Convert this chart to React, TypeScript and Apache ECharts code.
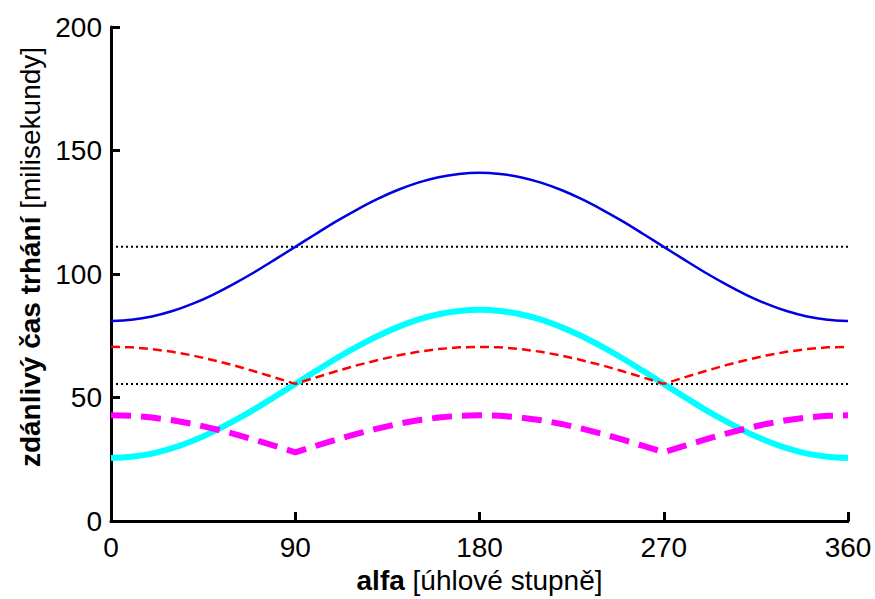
import React, { useEffect, useRef } from "react";
import * as echarts from "echarts";

const alphaDeg = [0,10,20,30,40,50,60,70,80,90,100,110,120,130,140,150,160,170,180,190,200,210,220,230,240,250,260,270,280,290,300,310,320,330,340,350,360];
const blueTime = [81.0,81.5,82.8,85.0,88.0,91.7,96.0,100.7,105.8,111.0,116.2,121.3,126.0,130.3,134.0,137.0,139.2,140.5,141.0,140.5,139.2,137.0,134.0,130.3,126.0,121.3,116.2,111.0,105.8,100.7,96.0,91.7,88.0,85.0,82.8,81.5,81.0];
const cyanTime = [25.5,26.0,27.3,29.5,32.5,36.2,40.5,45.2,50.3,55.5,60.7,65.8,70.5,74.8,78.5,81.5,83.7,85.0,85.5,85.0,83.7,81.5,78.5,74.8,70.5,65.8,60.7,55.5,50.3,45.2,40.5,36.2,32.5,29.5,27.3,26.0,25.5];
const redTime = [70.5,70.3,69.6,68.5,67.0,65.1,63.0,60.6,58.1,55.5,58.1,60.6,63.0,65.1,67.0,68.5,69.6,70.3,70.5,70.3,69.6,68.5,67.0,65.1,63.0,60.6,58.1,55.5,58.1,60.6,63.0,65.1,67.0,68.5,69.6,70.3,70.5];
const magentaTime = [42.8,42.6,41.9,40.8,39.3,37.4,35.3,32.9,30.4,27.8,30.4,32.9,35.3,37.4,39.3,40.8,41.9,42.6,42.8,42.6,41.9,40.8,39.3,37.4,35.3,32.9,30.4,27.8,30.4,32.9,35.3,37.4,39.3,40.8,41.9,42.6,42.8];
const upperLevel = 111.0;
const lowerLevel = 55.5;
const xTicks = [0, 90, 180, 270, 360];
const yTicks = [0, 50, 100, 150, 200];

const pairs = (ys: number[]) => alphaDeg.map((x, i) => [x, ys[i]]);
const FONT = "'Liberation Sans', Arial, sans-serif";
const FS = 28;

export default function App() {
  const ref = useRef<HTMLDivElement>(null);
  useEffect(() => {
    if (!ref.current) return;
    const chart = echarts.init(ref.current, undefined, { renderer: "svg", width: 875, height: 599 });
    chart.setOption({
      animation: false,
      backgroundColor: "#ffffff",
      textStyle: { fontFamily: FONT },
      grid: { left: 111, right: 27, top: 27, bottom: 74, containLabel: false },
      xAxis: {
        type: "value",
        min: xTicks[0],
        max: xTicks[xTicks.length - 1],
        interval: 90,
        name: "{b|alfa }{n|[úhlové stupně]}",
        nameLocation: "middle",
        nameGap: 45,
        nameTextStyle: {
          rich: {
            b: { fontFamily: FONT, fontSize: FS, fontWeight: "bold", color: "#000" },
            n: { fontFamily: FONT, fontSize: FS, color: "#000" },
          },
        },
        axisLine: { show: true, onZero: false, lineStyle: { color: "#000", width: 3 } },
        axisTick: { show: true, inside: true, length: 9, lineStyle: { color: "#000", width: 3 } },
        axisLabel: { color: "#000", fontSize: FS, fontFamily: FONT, margin: 12 },
        splitLine: { show: false },
      },
      yAxis: {
        type: "value",
        min: yTicks[0],
        max: yTicks[yTicks.length - 1],
        interval: 50,
        name: "{b|zdánlivý čas trhání }{n|[milisekundy]}",
        nameLocation: "middle",
        nameRotate: 90,
        nameGap: 60,
        nameTextStyle: {
          padding: [0, 0, 0, 34],
          rich: {
            b: { fontFamily: FONT, fontSize: FS, fontWeight: "bold", color: "#000" },
            n: { fontFamily: FONT, fontSize: FS, color: "#000" },
          },
        },
        axisLine: { show: true, onZero: false, lineStyle: { color: "#000", width: 3 } },
        axisTick: { show: true, inside: true, length: 9, lineStyle: { color: "#000", width: 3 } },
        axisLabel: { color: "#000", fontSize: FS, fontFamily: FONT, margin: 9 },
        splitLine: { show: false },
      },
      series: [
        {
          type: "line",
          data: [[0, upperLevel], [360, upperLevel]],
          symbol: "none",
          lineStyle: { color: "#000", width: 2, type: [2, 3] },
        },
        {
          type: "line",
          data: [[0, lowerLevel], [360, lowerLevel]],
          symbol: "none",
          lineStyle: { color: "#000", width: 2, type: [2, 3] },
        },
        {
          type: "line",
          data: pairs(blueTime),
          symbol: "none",
          smooth: 0.3,
          lineStyle: { color: "#0000e0", width: 2.5 },
        },
        {
          type: "line",
          data: pairs(cyanTime),
          symbol: "none",
          smooth: 0.3,
          lineStyle: { color: "#00ffff", width: 6 },
        },
        {
          type: "line",
          data: pairs(redTime),
          symbol: "none",
          lineStyle: { color: "#ff0000", width: 2.5, type: [9, 5] },
        },
        {
          type: "line",
          data: pairs(magentaTime),
          symbol: "none",
          lineStyle: { color: "#ff00ff", width: 6, type: [20, 10] },
        },
      ],
    });
    return () => chart.dispose();
  }, []);
  return (
    <div
      ref={ref}
      style={{ position: "absolute", left: 0, top: 0, width: 875, height: 599, background: "#fff" }}
    />
  );
}
